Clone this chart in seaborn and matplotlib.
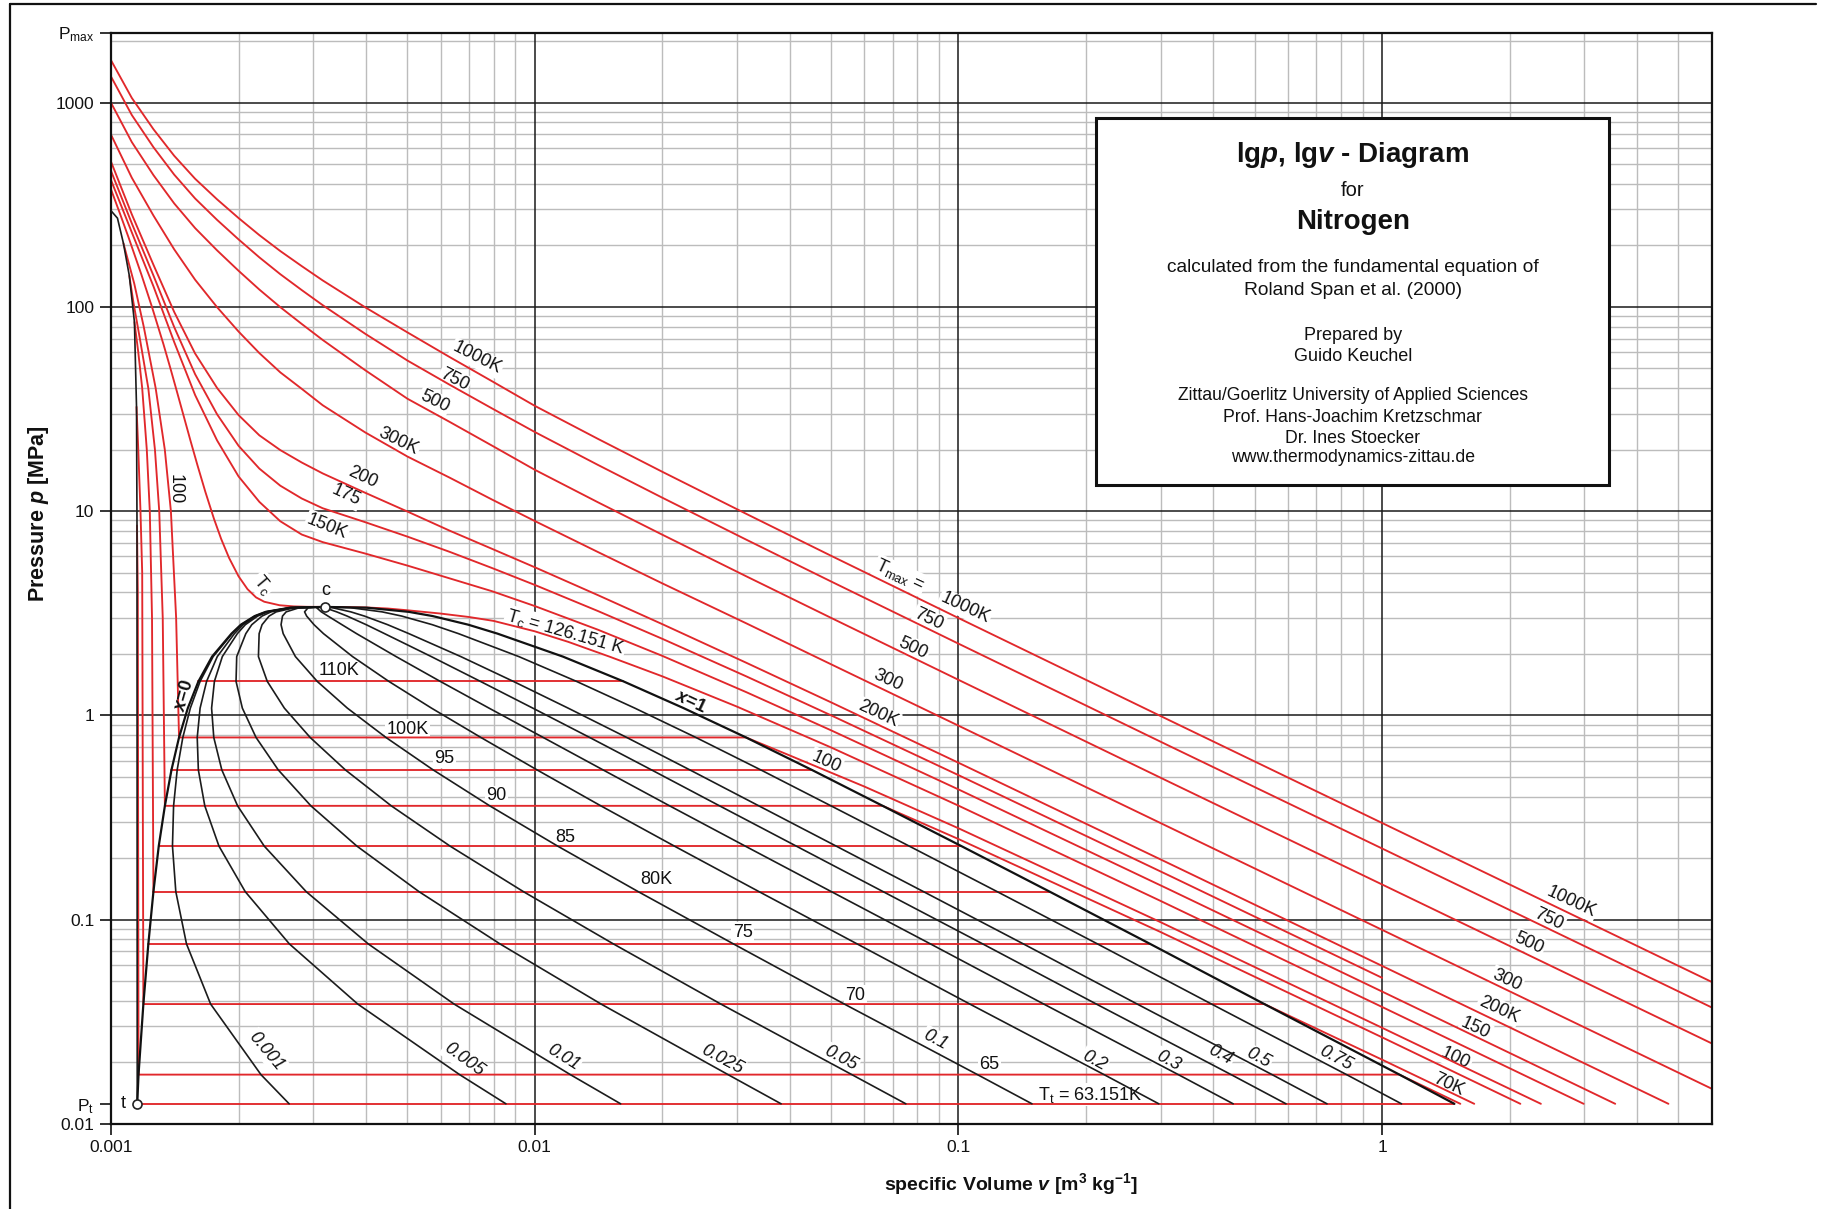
import numpy as np
import pandas as pd
import matplotlib
matplotlib.use("Agg")
import matplotlib.pyplot as plt
from matplotlib.patches import Rectangle
from matplotlib.lines import Line2D
from matplotlib.ticker import FixedLocator, FixedFormatter, NullLocator
import seaborn as sns

# ---------------------------------------------------------------------------
# Saturation states of nitrogen: T [K], p [MPa], v' and v'' [m3/kg]
# ---------------------------------------------------------------------------
sat_T = [63.151, 65, 70, 75, 80, 85, 90, 95, 100, 105, 110, 115, 120, 122, 124, 125, 126, 126.192]
sat_p = [0.012523, 0.017404, 0.038562, 0.076017, 0.13699, 0.22903, 0.36046, 0.54082, 0.77917,
         1.0846, 1.4670, 1.9396, 2.5125, 2.779, 3.063, 3.212, 3.366, 3.3958]
sat_vl = [0.0011534, 0.0011616, 0.0011926, 0.0012253, 0.0012596, 0.0012966, 0.0013405, 0.0013895,
          0.0014476, 0.0015184, 0.0016087, 0.0017325, 0.0019250, 0.002026, 0.002184, 0.002319,
          0.002647, 0.003192]
sat_vv = [1.4813, 1.0989, 0.5274, 0.2834, 0.1642, 0.1016, 0.06627, 0.04507, 0.03154, 0.02247,
          0.016194, 0.011655, 0.008170, 0.006969, 0.005744, 0.005043, 0.004013, 0.003192]

# vapour fractions of the drawn quality lines
qualities = [0.001, 0.005, 0.01, 0.025, 0.05, 0.1, 0.2, 0.3, 0.4, 0.5, 0.75]

# liquid side of the melting curve
melt_v = [0.0011534, 0.0011525, 0.001152, 0.001149, 0.001136, 0.001105, 0.00107, 0.001036, 0.001]
melt_p = [0.012523, 1.0, 8.5, 32.4, 84.4, 142, 205, 272, 296]

# supercritical isotherms on a common volume grid [m3/kg] -> p [MPa]
v_grid = [0.001, 0.00112, 0.00126, 0.00141, 0.00158, 0.00178, 0.002, 0.00224, 0.00251, 0.00282, 0.00316,
          0.00398, 0.00501, 0.00631, 0.00794, 0.01, 0.0141, 0.02, 0.0316, 0.0501, 0.1, 0.316, 1.0]
p_1000K = [1615, 1055, 741, 549.6, 424, 336.3, 272.5, 224.6, 187.7, 158.4, 134.8, 99.6, 75.0, 56.7, 43.2,
           32.8, 22.59, 15.59, 9.69, 6.04, 2.997, 0.942, 0.2971]
p_750K = [1344, 869.9, 605.0, 444.4, 339.5, 266.8, 214.2, 174.8, 144.6, 120.9, 102.0, 73.9, 54.6, 41.5, 31.8,
          24.42, 16.84, 11.64, 7.243, 4.521, 2.245, 0.7051, 0.2228]
p_500K = [1000, 641.2, 441.6, 321.2, 243.1, 189.2, 150.4, 121.6, 99.7, 82.5, 68.9, 49.0, 35.5, 27.3, 20.9,
          15.95, 11.05, 7.67, 4.792, 2.999, 1.493, 0.4698, 0.1485]
p_300K = [698, 429.0, 279.9, 191.4, 135.8, 99.7, 75.8, 59.4, 47.8, 39.7, 33.0, 24.3, 18.5, 14.56, 11.38,
          8.95, 6.306, 4.43, 2.82, 1.777, 0.8904, 0.2818, 0.08904]
p_200K = [515, 283.9, 160.6, 94.5, 59.1, 40.1, 29.55, 23.5, 19.9, 17.3, 15.3, 12.3, 9.95, 8.01, 6.53,
          5.313, 3.878, 2.797, 1.808, 1.157, 0.5862, 0.1871, 0.05929]
p_175K = [464, 256.5, 142.3, 79.7, 46.8, 29.8, 20.9, 16.15, 13.32, 11.53, 10.33, 8.83, 7.5, 6.31, 5.26,
          4.353, 3.242, 2.371, 1.551, 0.9993, 0.5098, 0.1634, 0.05184]
p_150K = [418.4, 231.7, 126.0, 67.3, 37.0, 22.2, 14.8, 11.1, 8.92, 7.68, 7.05, 6.2, 5.41, 4.68, 4.05,
          3.43, 2.626, 1.956, 1.298, 0.844, 0.4339, 0.1397, 0.04441]
sc_labels = ["1000K", "750K", "500K", "300K", "200K", "175K", "150K"]
# last point of each supercritical isotherm (None: the isotherm stops at v = 1)
tail_v = [6.0, 6.0, 6.0, 6.0, 4.74, None, 3.55]
tail_p = [0.04947, 0.0371, 0.02474, 0.01484, 0.012523, None, 0.012523]

# critical isotherm
crit_v = [0.001, 0.00105, 0.0011, 0.00118, 0.00125, 0.00133, 0.00138, 0.00143, 0.00148, 0.00154, 0.0016,
          0.00167, 0.00175, 0.00182, 0.0019, 0.002, 0.0021, 0.0022, 0.0023, 0.0025, 0.0027, 0.0029,
          0.003192, 0.0035, 0.004, 0.0045, 0.005, 0.006, 0.007, 0.008, 0.01, 0.012, 0.015, 0.02, 0.03,
          0.05, 0.1, 0.3, 1.0, 2.99]
crit_p = [376.7, 286.6, 219.3, 143.9, 99.8, 65.7, 50.4, 38.71, 29.92, 22.19, 16.79, 12.44, 9.18, 7.31,
          5.90, 4.80, 4.15, 3.78, 3.60, 3.46, 3.415, 3.40, 3.3958, 3.392, 3.375, 3.335, 3.27, 3.15, 3.03,
          2.90, 2.58, 2.29, 1.94, 1.553, 1.104, 0.697, 0.3614, 0.1234, 0.03732, 0.012523]

# compressed-liquid branches (from saturated liquid up to the melting curve)
liq65_v = [0.0011616, 0.001157, 0.001152]
liq65_p = [0.017404, 4, 8.5]
liq70_v = [0.0011926, 0.001185, 0.001174, 0.001160, 0.001149]
liq70_p = [0.038562, 5, 10, 20, 32.4]
liq80_v = [0.0012596, 0.001250, 0.001235, 0.001215, 0.001185, 0.001160, 0.001136]
liq80_p = [0.13699, 3, 10, 20, 40, 60, 84.4]
liq90_v = [0.0013405, 0.001325, 0.001300, 0.001270, 0.001225, 0.001170, 0.001130, 0.001105]
liq90_p = [0.36046, 3, 10, 20, 40, 70, 105, 142]
liq100_v = [0.0014476, 0.001425, 0.001385, 0.001340, 0.001275, 0.001195, 0.001135, 0.00107]
liq100_p = [0.77917, 3, 10, 20, 40, 80, 130, 205]

# superheated-vapour branches (from saturated vapour down to the triple-point pressure)
gas65_v = [1.0989, 1.53]
gas65_p = [0.017404, 0.012523]
gas70_v = [0.5274, 1.0, 1.65]
gas70_p = [0.038562, 0.0206, 0.012523]
gas90_v = [0.06627, 0.1, 0.3, 1.0, 2.12]
gas90_p = [0.36046, 0.248, 0.0869, 0.0265, 0.012523]
gas100_v = [0.03154, 0.04, 0.06, 0.1, 0.3, 1.0, 2.37]
gas100_p = [0.77917, 0.636, 0.448, 0.280, 0.0971, 0.02951, 0.012523]

P_MAX = 2200.0
P_T = 0.012523
V_MIN, V_MAX = 0.001, 6.0
P_MIN = 0.01

# ---------------------------------------------------------------------------
RED = "#e1282b"
sns.set_theme(style="white")
plt.rcParams["font.family"] = ["Liberation Sans", "DejaVu Sans"]
plt.rcParams["mathtext.fontset"] = "custom"
plt.rcParams["mathtext.rm"] = "Liberation Sans"
plt.rcParams["mathtext.it"] = "Liberation Sans:italic"
plt.rcParams["mathtext.bf"] = "Liberation Sans:bold"
plt.rcParams["mathtext.bfit"] = "Liberation Sans:italic:bold"

fig = plt.figure(figsize=(18.31, 12.09), dpi=100)
fig.patch.set_facecolor("white")
ax = fig.add_axes([0.0606, 0.0705, 0.8743, 0.9024])
ax.set_xscale("log")
ax.set_yscale("log")
ax.set_xlim(V_MIN, V_MAX)
ax.set_ylim(P_MIN, P_MAX)
ax.set_facecolor("white")

# --- grid ---------------------------------------------------------------
for base in [1e-3, 1e-2, 1e-1, 1.0]:
    for k in range(2, 10):
        xv = k * base
        if xv < V_MAX:
            ax.axvline(xv, color="#bcbcbc", lw=1.0, zorder=0.5)
for base in [1e-2, 1e-1, 1.0, 10.0, 100.0, 1000.0]:
    for k in range(2, 10):
        yv = k * base
        if yv < P_MAX:
            ax.axhline(yv, color="#bcbcbc", lw=1.0, zorder=0.5)
for xv in [0.01, 0.1, 1.0]:
    ax.axvline(xv, color="#1a1a1a", lw=1.1, zorder=0.6)
for yv in [0.1, 1.0, 10.0, 100.0, 1000.0]:
    ax.axhline(yv, color="#1a1a1a", lw=1.1, zorder=0.6)

# --- build curve tables -------------------------------------------------
red_rows = []
black_rows = []


def add(rows, name, vs, ps):
    for v, p in zip(vs, ps):
        rows.append((name, v, p))


sc_lists = [p_1000K, p_750K, p_500K, p_300K, p_200K, p_175K, p_150K]
for name, ps, tv, tp in zip(sc_labels, sc_lists, tail_v, tail_p):
    if tv is None:
        add(red_rows, name, v_grid, ps)
    else:
        add(red_rows, name, v_grid + [tv], ps + [tp])
add(red_rows, "Tc", crit_v, crit_p)

sat_idx = {T: i for i, T in enumerate(sat_T)}


def two_phase(T):
    i = sat_idx[T]
    return [sat_vl[i], sat_vv[i]], [sat_p[i], sat_p[i]]


full_iso = {
    65: (liq65_v, liq65_p, gas65_v, gas65_p),
    70: (liq70_v, liq70_p, gas70_v, gas70_p),
    80: (liq80_v, liq80_p, [], []),
    90: (liq90_v, liq90_p, gas90_v, gas90_p),
    100: (liq100_v, liq100_p, gas100_v, gas100_p),
}
for T, (lv, lp, gv, gp) in full_iso.items():
    add(red_rows, f"{T}K", lv[::-1] + gv, lp[::-1] + gp)
    if not gv:
        hv, hp = two_phase(T)
        add(red_rows, f"{T}K-h", hv, hp)
for T in [63.151, 75, 85, 95, 110]:
    hv, hp = two_phase(T)
    add(red_rows, f"{T}K-h", hv, hp)

red_df = pd.DataFrame(red_rows, columns=["curve", "v", "p"])

add(black_rows, "melt", melt_v, melt_p)
for x in qualities:
    qv = [vl + x * (vv - vl) for vl, vv in zip(sat_vl, sat_vv)]
    add(black_rows, f"x={x}", qv, sat_p)
black_df = pd.DataFrame(black_rows, columns=["curve", "v", "p"])
dome_df = pd.DataFrame(
    [("x=0", v, p) for v, p in zip(sat_vl, sat_p)] + [("x=1", v, p) for v, p in zip(sat_vv, sat_p)],
    columns=["curve", "v", "p"])

sns.lineplot(data=red_df, x="v", y="p", units="curve", estimator=None, sort=False,
             color=RED, linewidth=1.35, ax=ax, legend=False, zorder=2)
sns.lineplot(data=black_df, x="v", y="p", units="curve", estimator=None, sort=False,
             color="#1c1c1c", linewidth=1.2, ax=ax, legend=False, zorder=3)
sns.lineplot(data=dome_df, x="v", y="p", units="curve", estimator=None, sort=False,
             color="#111111", linewidth=1.6, ax=ax, legend=False, zorder=3)

# critical point and triple point markers
ax.plot([sat_vv[-1]], [sat_p[-1]], marker="o", ms=6.5, mfc="white", mec="#222222", mew=1.2, zorder=5)
ax.plot([sat_vl[0]], [sat_p[0]], marker="o", ms=6.5, mfc="white", mec="#222222", mew=1.2, zorder=5)

# --- axes, ticks --------------------------------------------------------
ax.set_xlabel("")
ax.set_ylabel("")
for s in ax.spines.values():
    s.set_color("#111111")
    s.set_linewidth(1.6)
ax.xaxis.set_major_locator(FixedLocator([0.001, 0.01, 0.1, 1.0]))
ax.xaxis.set_major_formatter(FixedFormatter(["0.001", "0.01", "0.1", "1"]))
ax.xaxis.set_minor_locator(NullLocator())
ax.yaxis.set_major_locator(FixedLocator([0.01, P_T, 0.1, 1.0, 10.0, 100.0, 1000.0, P_MAX]))
ax.yaxis.set_major_formatter(FixedFormatter(["0.01", r"P$_\mathrm{t}$", "0.1", "1", "10", "100", "1000",
                                             r"P$_\mathrm{max}$"]))
ax.yaxis.set_minor_locator(NullLocator())
ax.tick_params(axis="both", which="major", direction="out", length=8, width=1.2, color="#111111",
               labelsize=12.5, labelcolor="#111111", pad=4, left=True, bottom=True)
ax.grid(False)

fig.text(0.021, 0.575, r"Pressure $\mathbfit{p}$ [MPa]", rotation=90, ha="center", va="center",
         fontsize=15.5, fontweight="bold", color="#111111")
fig.text(0.552, 0.021, r"specific Volume $\mathbfit{v}$ [m$^{\mathbf{3}}$ kg$^{\mathbf{-1}}$]", ha="center",
         va="center", fontsize=14, fontweight="bold", color="#111111")

# --- curve labels (white patches hide the grid, curves stay on top) -------
lab_kw = dict(ha="center", va="center", color="#111111", fontsize=13, zorder=1.5, rotation_mode="anchor",
              bbox=dict(boxstyle="square,pad=0.08", fc="white", ec="none"))


def lab(txt, v, p, rot=0, **kw):
    d = dict(lab_kw)
    d.update(kw)
    ax.text(v, p, txt, rotation=rot, **d)


for txt, v, p, r in [("1000K", 0.0073, 56.1, -27), ("750", 0.00647, 44.2, -27), ("500", 0.0058, 34.4, -26),
                     ("300K", 0.00477, 22.0, -26), ("200", 0.00392, 14.6, -25), ("175", 0.00358, 11.9, -25),
                     ("150K", 0.00324, 8.43, -22)]:
    lab(txt, v, p, r)
lab(r"T$_\mathrm{c}$", 0.00228, 4.37, -50)
lab("c", 0.00321, 4.1, 0, bbox=None, zorder=6)
lab("100", 0.00142, 12.8, -90)
lab(r"$\mathbfit{x}$=0", 0.00149, 1.25, 74, fontweight="bold", bbox=None, zorder=6)
lab(r"$\mathbfit{x}$=1", 0.0233, 1.156, -25, fontweight="bold", bbox=None, zorder=6)
lab(r"T$_\mathrm{c}$ = 126.151 K", 0.0118, 2.55, -16)

for txt, v, p in [("110K", 0.00345, 1.649), ("100K", 0.00502, 0.854), ("95", 0.00613, 0.615),
                  ("90", 0.00813, 0.403), ("85", 0.01182, 0.251), ("80K", 0.01939, 0.1564),
                  ("75", 0.031, 0.0865), ("70", 0.0571, 0.0425), ("65", 0.1184, 0.01956)]:
    lab(txt, v, p, 0)
lab(r"T$_\mathrm{t}$ = 63.151K", 0.205, 0.0139, 0)

for txt, v, p in [(r"T$_\mathrm{max}$ =", 0.0727, 4.85), ("1000K", 0.1036, 3.35), ("750", 0.0851, 2.94),
                  ("500", 0.0783, 2.14), ("300", 0.0681, 1.48), ("200K", 0.0647, 1.013),
                  ("100", 0.0487, 0.591)]:
    lab(txt, v, p, -25)
for txt, v, p in [("1000K", 2.796, 0.1218), ("750", 2.477, 0.1), ("500", 2.224, 0.0769),
                  ("300", 1.97, 0.0505), ("200K", 1.886, 0.0363), ("150", 1.661, 0.0294),
                  ("100", 1.491, 0.0209), ("70K", 1.435, 0.0156)]:
    lab(txt, v, p, -25)

for txt, v, p, r in [("0.001", 0.00233, 0.0226, -50), ("0.005", 0.0068, 0.0206, -36),
                     ("0.01", 0.01167, 0.0212, -32), ("0.025", 0.02767, 0.0206, -28),
                     ("0.05", 0.0529, 0.0209, -28), ("0.1", 0.0884, 0.0258, -28),
                     ("0.2", 0.2097, 0.0204, -28), ("0.3", 0.3126, 0.0204, -28),
                     ("0.4", 0.416, 0.0217, -28), ("0.5", 0.51, 0.0209, -28), ("0.75", 0.776, 0.0209, -28)]:
    lab(txt, v, p, r, style="italic")

lab("t", 0.00107, P_T, 0, bbox=None, zorder=6)

# --- info box -----------------------------------------------------------
bx0, bx1 = 939 / 1568, 1378 / 1568
by1, by0 = 1 - 101 / 1035, 1 - 415 / 1035
fig.add_artist(Rectangle((bx0, by0), bx1 - bx0, by1 - by0, transform=fig.transFigure,
                         fc="white", ec="#111111", lw=2.2, zorder=10))
cx = 0.5 * (bx0 + bx1)
box_lines = [
    (r"lg$\mathbfit{p}$, lg$\mathbfit{v}$ - Diagram", 133, 20, "bold"),
    ("for", 163, 14.5, "normal"),
    ("Nitrogen", 190, 20, "bold"),
    ("calculated from the fundamental equation of", 229, 13.8, "normal"),
    ("Roland Span et al. (2000)", 249, 13.8, "normal"),
    ("Prepared by", 287, 13, "normal"),
    ("Guido Keuchel", 305, 13, "normal"),
    ("Zittau/Goerlitz University of Applied Sciences", 339, 12.7, "normal"),
    ("Prof. Hans-Joachim Kretzschmar", 357, 12.7, "normal"),
    ("Dr. Ines Stoecker", 375, 12.7, "normal"),
    ("www.thermodynamics-zittau.de", 392, 12.7, "normal"),
]
for txt, yy, fs, fw in box_lines:
    fig.text(cx, 1 - yy / 1035, txt, ha="center", va="center", fontsize=fs, fontweight=fw,
             color="#111111", zorder=11)

# outer frame
fig.add_artist(Line2D([0.0055, 0.0055], [0.0, 0.997], transform=fig.transFigure, color="#111111", lw=1.6))
fig.add_artist(Line2D([0.0055, 0.992], [0.997, 0.997], transform=fig.transFigure, color="#111111", lw=1.6))

fig.savefig("out.png", dpi=100, facecolor="white")
